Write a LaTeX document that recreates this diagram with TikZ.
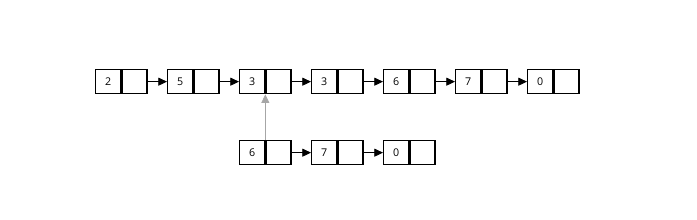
\documentclass[tikz,border=0pt]{standalone}
\usepackage{fontspec}
\setmainfont{Open Sans}
\usetikzlibrary{arrows.meta}
\begin{document}
\begin{tikzpicture}[x=0.75pt, y=-0.75pt, >={Triangle[length=6.5pt,width=6pt]},
    val/.style={draw, line width=1pt, anchor=north west, minimum width=18.75pt,
      minimum height=18pt, inner sep=0pt, font=\fontsize{8}{10}\selectfont},
    ptr/.style={draw, line width=1pt, anchor=west, minimum width=18.75pt,
      minimum height=18pt, inner sep=0pt},
    link/.style={->, line width=0.6pt}]
  \useasboundingbox (0,0) rectangle (697,220);
  % main list
  \node[val] (a1) at (95,69) {2};  \node[ptr] (a1p) at (a1.east) {};
  \node[val] (a2) at (167,69) {5}; \node[ptr] (a2p) at (a2.east) {};
  \node[val] (a3) at (239,69) {3}; \node[ptr] (a3p) at (a3.east) {};
  \node[val] (a4) at (311,69) {3}; \node[ptr] (a4p) at (a4.east) {};
  \node[val] (a5) at (383,69) {6}; \node[ptr] (a5p) at (a5.east) {};
  \node[val] (a6) at (455,69) {7}; \node[ptr] (a6p) at (a6.east) {};
  \node[val] (a7) at (527,69) {0}; \node[ptr] (a7p) at (a7.east) {};
  % second list
  \node[val] (b1) at (239,140) {6}; \node[ptr] (b1p) at (b1.east) {};
  \node[val] (b2) at (311,140) {7}; \node[ptr] (b2p) at (b2.east) {};
  \node[val] (b3) at (383,140) {0}; \node[ptr] (b3p) at (b3.east) {};
  % links
  \draw[link] (a1p.east) -- (a2.west);
  \draw[link] (a2p.east) -- (a3.west);
  \draw[link] (a3p.east) -- (a4.west);
  \draw[link] (a4p.east) -- (a5.west);
  \draw[link] (a5p.east) -- (a6.west);
  \draw[link] (a6p.east) -- (a7.west);
  \draw[link] (b1p.east) -- (b2.west);
  \draw[link] (b2p.east) -- (b3.west);
  \draw[link, black!35] (b1.north east) -- (a3.south east);
\end{tikzpicture}
\end{document}
